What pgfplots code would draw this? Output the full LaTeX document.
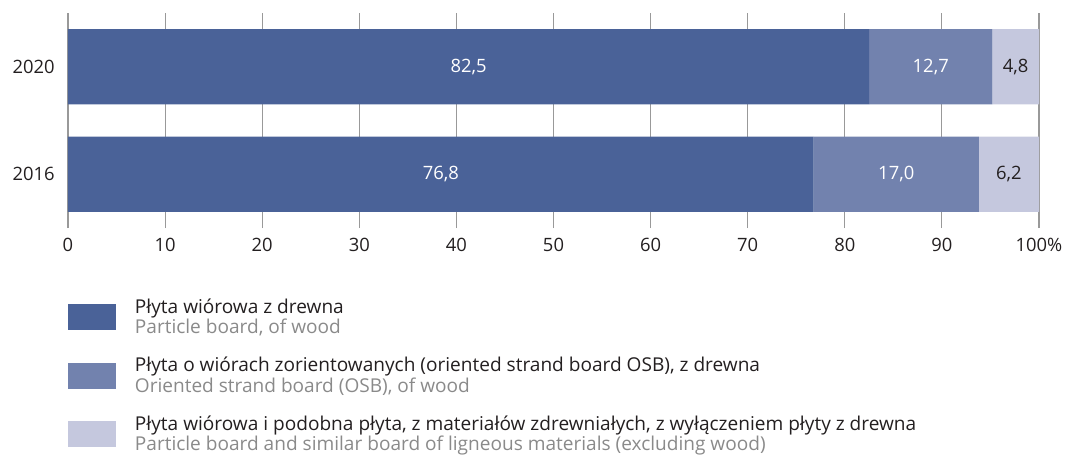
\documentclass[border=0pt]{standalone}
\usepackage{pgfplots}
\pgfplotsset{compat=1.18}
\usepackage{fontspec}
\setmainfont{Open Sans}
\definecolor{cA}{HTML}{4A6298}
\definecolor{cB}{HTML}{7282AE}
\definecolor{cC}{HTML}{C5C8DE}
\definecolor{txt}{HTML}{231F20}
\definecolor{sub}{HTML}{8A8A8A}
\definecolor{gridc}{HTML}{999999}
\begin{document}
\begin{tikzpicture}
\useasboundingbox (0,0) rectangle (805.5pt,340.5pt);
\begin{axis}[
  at={(51pt,169.5pt)}, anchor=south west,
  scale only axis, width=728.25pt, height=161.25pt,
  xbar stacked, bar width=0.7,
  xmin=0, xmax=100, ymin=-0.5, ymax=1.5,
  xtick={0,10,...,100},
  xticklabels={0,10,20,30,40,50,60,70,80,90,100\%},
  ytick={0,1}, yticklabels={2016,2020},
  axis line style={draw=none},
  major tick length=0pt,
  xmajorgrids, grid style={gridc, line width=0.8pt},
  tick label style={font=\fontsize{13.8}{16}\selectfont, text=txt},
  /pgf/number format/assume math mode=true,
  xticklabel style={yshift=-4pt},
  yticklabel style={xshift=-6.5pt},
  nodes near coords={\pgfmathprintnumber[fixed,fixed zerofill,precision=1,use comma]{\pgfplotspointmeta}},
  point meta=rawx,
  every node near coord/.append style={anchor=center, font=\fontsize{13.8}{16}\selectfont},
  legend style={at={(0,0)}, anchor=north west, yshift=-51pt, draw=none, fill=none, inner sep=0pt,
    row sep=12pt, column sep=12pt, font=\fontsize{14.3}{15.3}\selectfont, text=txt,
    cells={align=left, anchor=west}},
  legend cell align=left,
  legend image code/.code={\fill[#1] (0pt,-9.75pt) rectangle (36pt,9.75pt);},
]
\addplot[fill=cA, draw=none, nodes near coords style={text=white}] coordinates {(76.8,0) (82.5,1)};
\addplot[fill=cB, draw=none, nodes near coords style={text=white}] coordinates {(17.0,0) (12.7,1)};
\addplot[fill=cC, draw=none, nodes near coords style={text=txt}] coordinates {(6.2,0) (4.8,1)};
\addlegendentry{Płyta wiórowa z drewna\\\textcolor{sub}{Particle board, of wood}}
\addlegendentry{Płyta o wiórach zorientowanych (oriented strand board OSB), z drewna\\\textcolor{sub}{Oriented strand board (OSB), of wood}}
\addlegendentry{Płyta wiórowa i podobna płyta, z materiałów zdrewniałych, z wyłączeniem płyty z drewna\\\textcolor{sub}{Particle board and similar board of ligneous materials (excluding wood)}}
\end{axis}
\end{tikzpicture}
\end{document}
